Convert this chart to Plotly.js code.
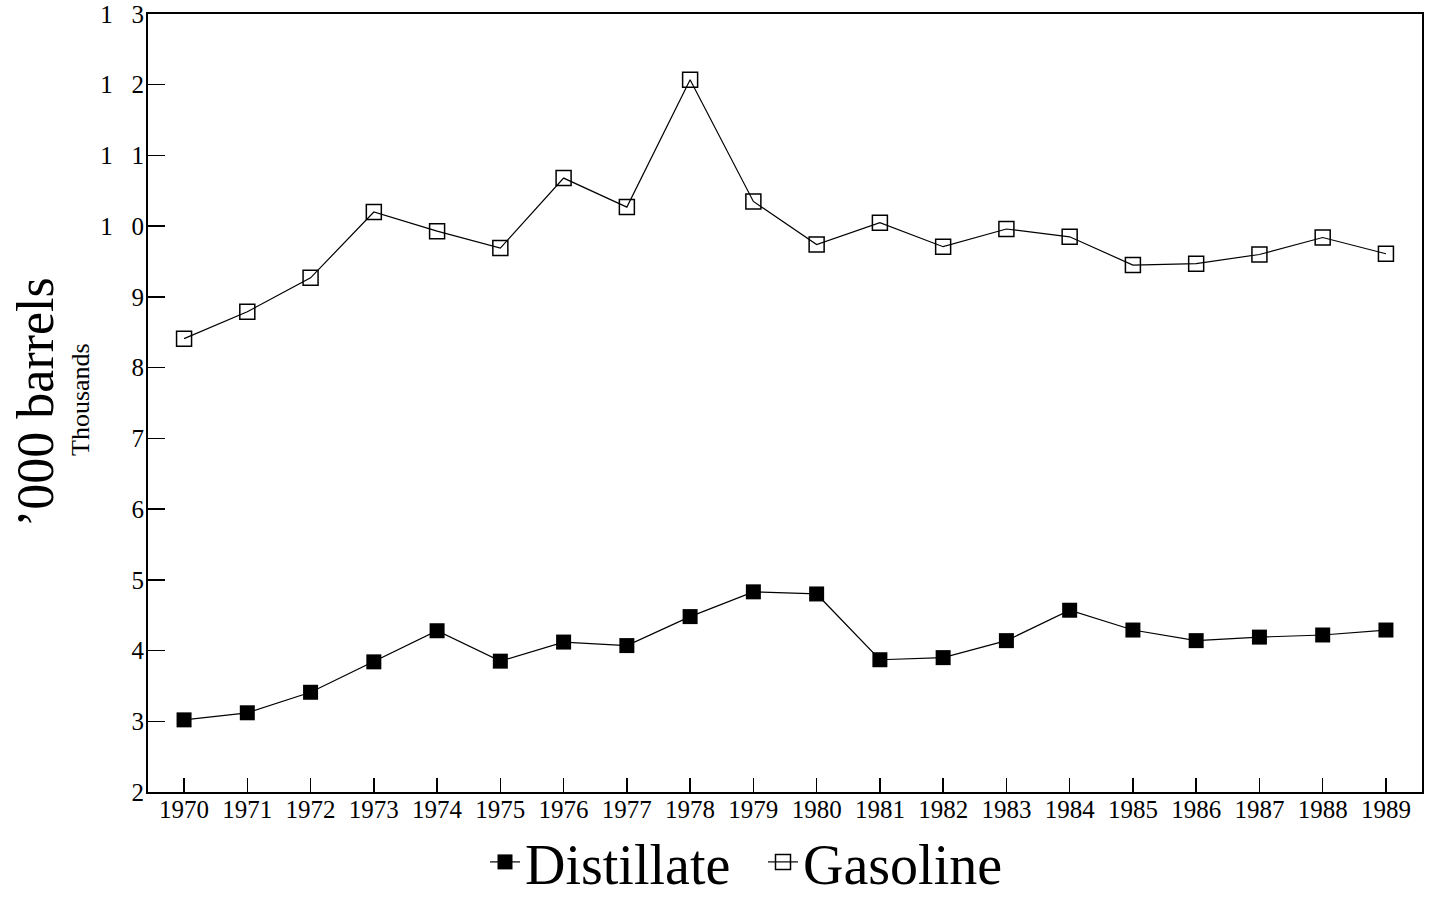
<!DOCTYPE html>
<html>
<head>
<meta charset="utf-8">
<script src="https://cdn.plot.ly/plotly-3.0.1.min.js"></script>
<style>html,body{margin:0;padding:0;background:#fff;}#chart{width:1437px;height:899px;}</style>
</head>
<body>
<div id="chart"></div>
<script>
const years = [1970,1971,1972,1973,1974,1975,1976,1977,1978,1979,1980,1981,1982,1983,1984,1985,1986,1987,1988,1989];
const distillate = [3.02,3.12,3.41,3.84,4.28,3.85,4.12,4.07,4.48,4.83,4.80,3.87,3.90,4.14,4.57,4.29,4.14,4.19,4.22,4.29];
const gasoline = [8.41,8.79,9.27,10.20,9.93,9.69,10.68,10.27,12.07,10.35,9.74,10.05,9.71,9.96,9.85,9.45,9.47,9.60,9.84,9.61];
const yTickVals = [2,3,4,5,6,7,8,9,10,11,12,13];
const yTickText = ["2","3","4","5","6","7","8","9","1\u2002\u20050","1\u2002\u20051","1\u2002\u20052","1\u2002\u20053"];
const seriesNames = ["Distillate","Gasoline"];

const serif = "Liberation Serif, Times New Roman, serif";

const traces = [
  {x: years, y: distillate, name: seriesNames[0], type: "scatter", mode: "lines+markers",
   line: {color: "#000", width: 1.2},
   marker: {symbol: "square", size: 15, color: "#000"}},
  {x: years, y: gasoline, name: seriesNames[1], type: "scatter", mode: "lines+markers",
   line: {color: "#000", width: 1.2},
   marker: {symbol: "square-open", size: 15, color: "#000", line: {width: 1.5}}}
];

const layout = {
  width: 1437, height: 899,
  margin: {l: 148, r: 15, t: 14, b: 107},
  paper_bgcolor: "#fff", plot_bgcolor: "#fff",
  font: {family: serif, color: "#000"},
  showlegend: true,
  legend: {orientation: "h", xref: "container", yref: "container",
           x: 485/1437, xanchor: "left", y: (899-862)/899, yanchor: "middle",
           font: {family: serif, size: 56, color: "#000"}, itemwidth: 30, tracegroupgap: 0,
           entrywidth: 233, entrywidthmode: "pixels", valign: "bottom",
           bgcolor: "rgba(0,0,0,0)"},
  xaxis: {range: [1969.43, 1989.57], tickvals: years, ticktext: years.map(String),
          ticks: "inside", ticklen: 14, tickwidth: 1.5, tickcolor: "#000",
          showline: true, linecolor: "#000", linewidth: 2, mirror: true,
          showgrid: false, zeroline: false, automargin: false, ticklabelstandoff: -6,
          tickfont: {family: serif, size: 25, color: "#000"}},
  yaxis: {range: [2, 13], tickvals: yTickVals, ticktext: yTickText,
          ticks: "inside", ticklen: 17, tickwidth: 1.5, tickcolor: "#000",
          showline: true, linecolor: "#000", linewidth: 2, mirror: true,
          showgrid: false, zeroline: false, automargin: false, ticklabelstandoff: -3,
          tickfont: {family: serif, size: 25, color: "#000"}},
  annotations: [
    {text: "\u2019000 barrels", xref: "paper", yref: "paper", x: (35-148)/1274, y: (792-402)/778,
     xanchor: "center", yanchor: "middle", textangle: -90, showarrow: false,
     font: {family: serif, size: 52, color: "#000"}},
    {text: "Thousands", xref: "paper", yref: "paper", x: (80-148)/1274, y: (792-400)/778,
     xanchor: "center", yanchor: "middle", textangle: -90, showarrow: false,
     font: {family: serif, size: 26, color: "#000"}}
  ]
};

Plotly.newPlot("chart", traces, layout, {displayModeBar: false, staticPlot: true});
</script>
</body>
</html>
